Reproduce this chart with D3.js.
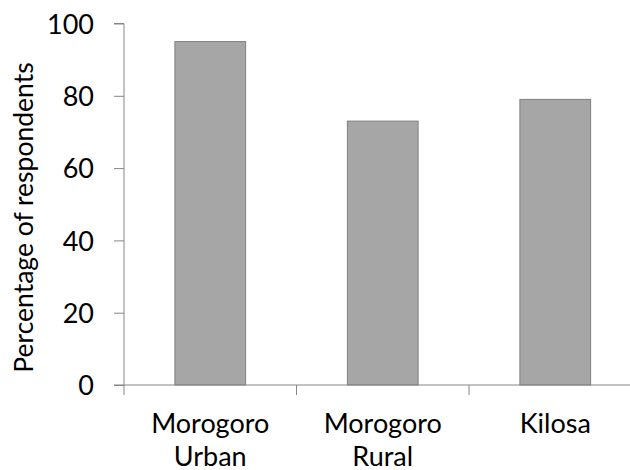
<!DOCTYPE html>
<html><head><meta charset="utf-8">
<script src="https://cdn.jsdelivr.net/npm/d3@7"></script>
<style>body{margin:0;background:#fff;} svg{display:block;}</style>
</head><body>
<svg id="c" width="630" height="470"></svg>
<script>
const categories = [["Morogoro","Urban"],["Morogoro","Rural"],["Kilosa"]];
const values = [95, 73, 79];
const yTicks = [0, 20, 40, 60, 80, 100];
const yTitle = "Percentage of respondents";

(function(){
const svg = d3.select("#c");
const font = "Lato, 'Open Sans', sans-serif";
const pLeft = 124, pRight = 641.5, pTop = 23.5, pBottom = 385;
const keys = categories.map((c,i)=>i);
const x = d3.scaleBand().domain(keys).range([pLeft, pRight]).paddingInner(0.59).paddingOuter(0.295);
const y = d3.scaleLinear().domain([0,100]).range([pBottom, pTop]);
const axisColor = "#868686";

// bars
svg.selectAll("rect.bar").data(values).join("rect")
  .attr("class","bar")
  .attr("x",(d,i)=>x(i)).attr("width",x.bandwidth())
  .attr("y",d=>y(d)).attr("height",d=>y(0)-y(d))
  .attr("fill","#a6a6a6").attr("stroke","#7f7f7f").attr("stroke-width",1);

// y axis
const ya = svg.append("g").attr("transform",`translate(${pLeft},0)`)
  .call(d3.axisLeft(y).tickValues(yTicks).tickSize(10).tickPadding(20).tickFormat(d3.format("d")));
ya.select(".domain").attr("stroke",axisColor).attr("d",`M-10,${pTop}H0V${pBottom}`);
ya.selectAll(".tick line").attr("stroke",axisColor);
ya.selectAll(".tick text").attr("font-family",font).attr("font-size",27).attr("fill","#000").attr("dy","0.36em");

// x axis
const step = x.step();
const bounds = [0,1,2,3].map(i=>pLeft + i*step);
const xa = svg.append("g");
xa.append("line").attr("x1",pLeft-10).attr("x2",pRight).attr("y1",pBottom).attr("y2",pBottom).attr("stroke",axisColor);
xa.selectAll("line.t").data(bounds).join("line").attr("class","t")
  .attr("x1",d=>d).attr("x2",d=>d).attr("y1",pBottom).attr("y2",pBottom+10).attr("stroke",axisColor);
const labels = xa.selectAll("text.cat").data(categories).join("text").attr("class","cat")
  .attr("x",(d,i)=>x(i)+x.bandwidth()/2).attr("y",433)
  .attr("text-anchor","middle").attr("font-family",font).attr("font-size",27).attr("fill","#000");
labels.each(function(d){
  const t = d3.select(this);
  d.forEach((s,j)=>t.append("tspan").attr("x",t.attr("x")).attr("dy",j===0?0:33).text(s));
});

// y title
svg.append("text").attr("transform",`translate(33,217.5) rotate(-90)`)
  .attr("text-anchor","middle").attr("font-family",font).attr("font-size",26.5).attr("fill","#000")
  .text(yTitle);
})();
</script>
</body></html>
